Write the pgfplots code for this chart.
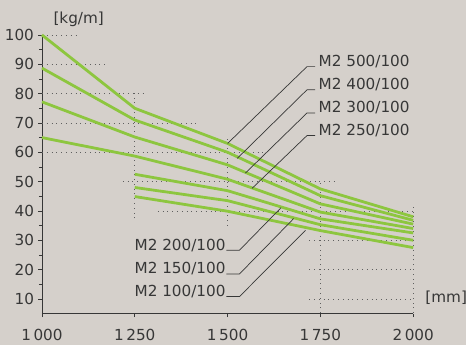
\documentclass[border=0pt]{standalone}
\usepackage{fontspec}
\setmainfont{DejaVu Sans}
\usepackage{pgfplots}
\pgfplotsset{compat=1.18}
\usetikzlibrary{backgrounds}

\definecolor{bg}{RGB}{213,208,203}
\definecolor{lime}{RGB}{141,198,63}
\definecolor{ink}{RGB}{55,55,55}
\definecolor{gridc}{RGB}{95,95,95}

\begin{document}
\begin{tikzpicture}[
    lbl/.style={font=\fontsize{15.3}{17}\selectfont, text=ink, inner sep=0pt},
    leader/.style={ink, line width=0.7bp},
  ]
\begin{axis}[
    scale only axis,
    width=371.7bp, height=279bp,
    xmin=1000, xmax=2000, ymin=5, ymax=100,
    axis x line=bottom, axis y line=left,
    axis line style={-, ink, line width=0.9bp},
    xtick={1000,1250,1500,1750,2000},
    xticklabels={1\,000,1\,250,1\,500,1\,750,2\,000},
    ytick={10,20,...,100},
    minor ytick={15,25,...,95},
    tick align=outside,
    major tick length=3.5bp, minor tick length=3bp,
    tick style={ink, line width=0.8bp},
    /pgf/number format/assume math mode=true,
    tick label style={font=\fontsize{15.3}{17}\selectfont, text=ink},
    xticklabel style={yshift=-9bp},
    yticklabel style={xshift=-1bp},
    clip=false,
    gridl/.style={gridc, line width=0.8bp, dash pattern=on 0.8bp off 4bp, forget plot},
    curve/.style={lime, line width=2.8bp, line join=round, forget plot},
]
% partial dotted grid
\addplot[gridl] coordinates {(1000,100) (1091,100)};
\addplot[gridl] coordinates {(1000,90) (1180,90)};
\addplot[gridl] coordinates {(1000,80) (1272,80)};
\addplot[gridl] coordinates {(1000,70) (1417,70)};
\addplot[gridl] coordinates {(1000,60) (1595,60)};
\addplot[gridl] coordinates {(1218,50) (1790,50)};
\addplot[gridl] coordinates {(1312,40) (2000,40)};
\addplot[gridl] coordinates {(1720,30) (2000,30)};
\addplot[gridl] coordinates {(1720,20) (2000,20)};
\addplot[gridl] coordinates {(1720,10) (2000,10)};
\addplot[gridl] coordinates {(1250,37.5) (1250,81)};
\addplot[gridl] coordinates {(1500,35) (1500,65.5)};
\addplot[gridl] coordinates {(1750,5.2) (1750,50.8)};
\addplot[gridl] coordinates {(2000,5.2) (2000,41.8)};

% M2 500/100 ... M2 250/100
\addplot[curve] coordinates {(1000,100) (1250,75) (1500,63) (1750,47.5) (2000,38)};
\addplot[curve] coordinates {(1000,88.7) (1250,71) (1500,60) (1750,45.2) (2000,36.8)};
\addplot[curve] coordinates {(1000,77.2) (1250,65.2) (1500,55.7) (1750,42.4) (2000,35.5)};
\addplot[curve] coordinates {(1000,65) (1250,58.7) (1500,50.8) (1750,39.6) (2000,34)};
% M2 200/100 ... M2 100/100
\addplot[curve] coordinates {(1250,52.5) (1500,46.9) (1750,37.3) (2000,32.5)};
\addplot[curve] coordinates {(1250,48) (1500,43.5) (1750,35.3) (2000,30)};
\addplot[curve] coordinates {(1250,44.9) (1500,39.9) (1750,33.3) (2000,27.5)};

% labels with leader lines
\draw[leader] (axis cs:1736,89.2) -- (axis cs:1714,89.2) -- (axis cs:1500,63);
\draw[leader] (axis cs:1736,81.3) -- (axis cs:1714,81.3) -- (axis cs:1526,57.9);
\draw[leader] (axis cs:1736,73.4) -- (axis cs:1714,73.4) -- (axis cs:1548,52.9);
\draw[leader] (axis cs:1736,65.7) -- (axis cs:1714,65.7) -- (axis cs:1566,47.7);
\node[lbl, anchor=base west] at (axis cs:1745,89.2) {M2 500/100};
\node[lbl, anchor=base west] at (axis cs:1745,81.3) {M2 400/100};
\node[lbl, anchor=base west] at (axis cs:1745,73.4) {M2 300/100};
\node[lbl, anchor=base west] at (axis cs:1745,65.7) {M2 250/100};

\draw[leader] (axis cs:1497,26.6) -- (axis cs:1532,26.6) -- (axis cs:1644,41.1);
\draw[leader] (axis cs:1497,18.5) -- (axis cs:1532,18.5) -- (axis cs:1678,37.4);
\draw[leader] (axis cs:1497,10.8) -- (axis cs:1532,10.8) -- (axis cs:1710,33.4);
\node[lbl, anchor=base east] at (axis cs:1495,26.6) {M2 200/100};
\node[lbl, anchor=base east] at (axis cs:1495,18.5) {M2 150/100};
\node[lbl, anchor=base east] at (axis cs:1495,10.8) {M2 100/100};

% units
\node[lbl] at (axis cs:1099,105.4) {[kg/m]};
\node[lbl] at (axis cs:2089,10.4) {[mm]};

\coordinate (bbl) at (rel axis cs:-0.113,-0.111);
\coordinate (btr) at (rel axis cs:1.1434,1.1254);
\end{axis}
\begin{scope}[on background layer]
  \fill[bg] (bbl) rectangle (btr);
\end{scope}
\end{tikzpicture}
\end{document}
